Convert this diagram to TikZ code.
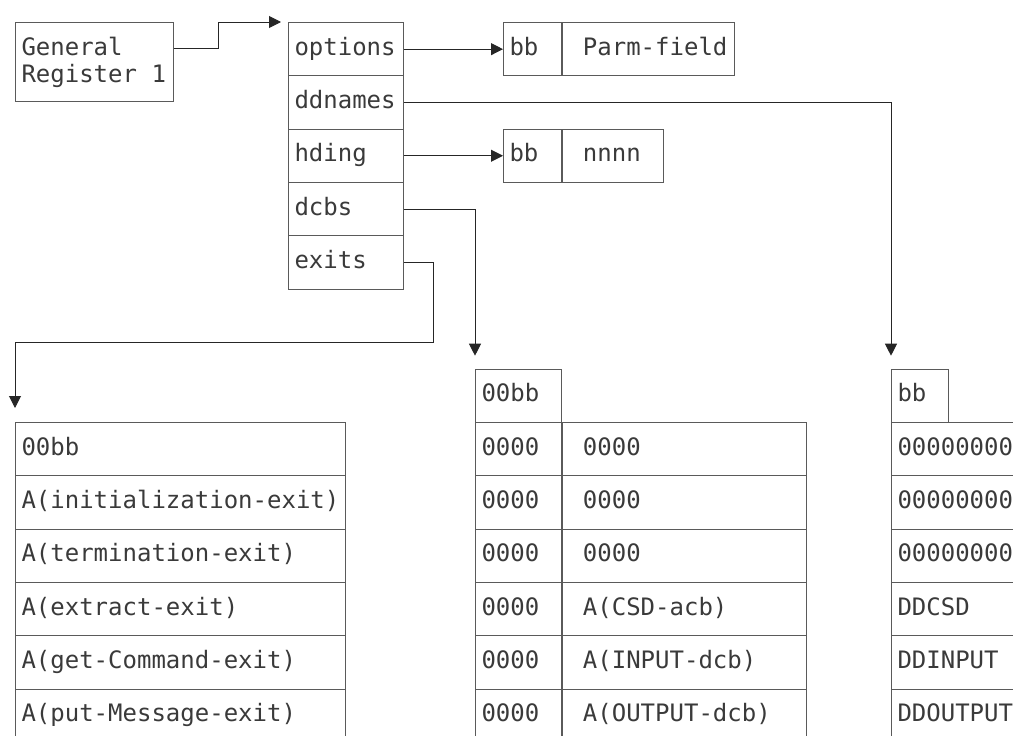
\documentclass[tikz,border=0pt]{standalone}
\usepackage{fontspec}
\setmainfont{DejaVu Sans Mono}
\usetikzlibrary{arrows.meta}
\definecolor{boxc}{HTML}{5A5A5A}
\definecolor{txtc}{HTML}{3A3A3A}
\newcommand\gap{\hspace*{14.45pt}}
\begin{document}
\begin{tikzpicture}[x=1pt,y=-1pt,
    box/.style={draw=boxc, line width=1pt, anchor=north west, text width=#1,
      inner xsep=6pt, inner ysep=0pt, text=txtc, font=\fontsize{24pt}{27pt}\selectfont,
      execute at begin node={\exhyphenpenalty=10000\relax\hyphenpenalty=10000\relax}},
    cell/.style={box=#1, minimum height=53.3pt, text height=17pt, text depth=5pt},
    link/.style={draw=black!85, line width=1pt, -{Triangle[length=12pt,width=12pt]}}]
  \useasboundingbox (0,0) rectangle (1013,736);
  \clip (0,0) rectangle (1013,736);
  \node[box=146pt, minimum height=79pt] (gr) at (15,22) {General\\Register\gap1};
  \foreach \t/\n [count=\i from 0] in {options/opt, ddnames/ddn, hding/hd, dcbs/dc, exits/ex}
    \node[cell=103pt] (\n) at (288,22+53.3*\i) {\t};
  \node[cell=46pt] (pbb) at (503,22) {bb};
  \node[cell=160pt] (pf) at (pbb.north east) {\gap Parm-field};
  \node[cell=46pt] (nbb) at (503,128.6) {bb};
  \node[cell=89pt] (nn) at (nbb.north east) {\gap nnnn};
  % exits table
  \foreach \t [count=\i from 0] in {00bb, A(initialization-exit), A(termination-exit),
      A(extract-exit), A(get-Command-exit), A(put-Message-exit)}
    \node[cell=318pt] (l\i) at (15,422+53.3*\i) {\t};
  % dcbs table
  \node[cell=74pt] (m0) at (475,368.7) {00bb};
  \foreach \a/\b [count=\i] in {0000/0000, 0000/0000, 0000/0000, 0000/A(CSD-acb),
      0000/A(INPUT-dcb), 0000/A(OUTPUT-dcb)} {
    \node[cell=74pt] (ma\i) at (475,368.7+53.3*\i) {\a};
    \node[cell=232pt] (mb\i) at (ma\i.north east) {\gap\b};
  }
  % ddnames table
  \node[cell=45pt] (r0) at (891,368.7) {bb};
  \foreach \t [count=\i] in {00000000, 00000000, 00000000, DDCSD, DDINPUT, DDOUTPUT}
    \node[cell=200pt] (r\i) at (891,368.7+53.3*\i) {\t};
  \draw[link] ([yshift=-26pt]gr.north east) -- ++(44,0) |- ([xshift=-7pt]opt.north west);
  \draw[link] (opt.east) -- (pbb.west);
  \draw[link] (ddn.east) -| ([yshift=13pt]r0.north west);
  \draw[link] (hd.east) -- (nbb.west);
  \draw[link] (dc.east) -| ([yshift=13pt]m0.north west);
  \draw[link] (ex.east) -- ++(29,0) -- ++(0,80) -| ([yshift=14pt]l0.north west);
\end{tikzpicture}
\end{document}
